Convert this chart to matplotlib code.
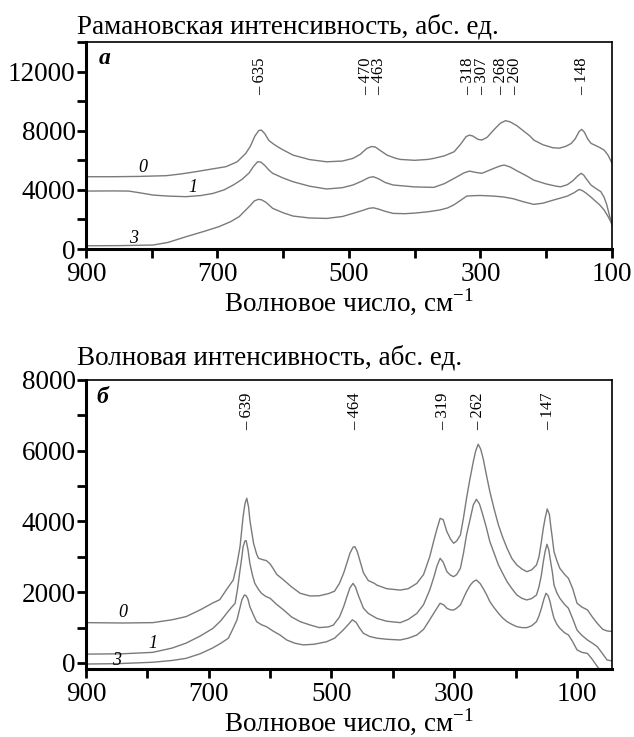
import matplotlib
matplotlib.use('Agg')
import matplotlib.pyplot as plt

plt.rcParams['font.family'] = ['Liberation Serif', 'DejaVu Serif']
plt.rcParams['mathtext.fontset'] = 'custom'
plt.rcParams['mathtext.rm'] = 'Liberation Serif'

# panel a: Raman spectra, curves 0, 1, 3
a0_wn = [900, 860, 820, 778, 755, 733, 710, 687, 670, 657, 650, 643, 637, 633, 628, 622, 616, 608, 600,
         585, 560, 534, 510, 494, 483, 473, 466, 460, 452, 442, 430, 422, 400, 380, 371, 355, 340, 330,
         322, 317, 312, 304, 298, 290, 280, 270, 262, 255, 245, 235, 225, 219, 205, 190, 180, 170, 162,
         156, 150, 146, 142, 137, 132, 125, 118, 112, 106, 100]
a0_int = [4890, 4890, 4910, 4960, 5080, 5230, 5400, 5570, 5900, 6470, 6950, 7650, 8020, 8040, 7800, 7350,
          7140, 6900, 6700, 6350, 6050, 5900, 5950, 6130, 6400, 6800, 6930, 6900, 6650, 6350, 6150, 6060,
          6000, 6060, 6130, 6300, 6580, 7100, 7600, 7700, 7650, 7420, 7370, 7550, 8050, 8500, 8680, 8600,
          8350, 8000, 7650, 7370, 7050, 6850, 6820, 6950, 7140, 7450, 7950, 8090, 7900, 7450, 7150, 7000,
          6850, 6690, 6350, 5800]

a1_wn = [900, 860, 835, 815, 798, 775, 748, 725, 707, 690, 676, 663, 652, 645, 639, 634, 628, 622, 616,
         600, 585, 560, 534, 510, 494, 480, 470, 463, 455, 445, 433, 400, 371, 355, 340, 325, 317, 307,
         298, 288, 280, 270, 264, 255, 245, 230, 219, 200, 185, 178, 168, 160, 152, 147, 143, 140, 132,
         124, 117, 112, 108, 104, 100]
a1_int = [3920, 3930, 3920, 3780, 3650, 3580, 3540, 3620, 3760, 4000, 4330, 4700, 5140, 5600, 5900, 5880,
          5650, 5350, 5120, 4800, 4550, 4250, 4060, 4150, 4330, 4600, 4830, 4890, 4750, 4500, 4330, 4200,
          4170, 4420, 4780, 5150, 5270, 5180, 5120, 5300, 5450, 5620, 5680, 5550, 5300, 4950, 4660, 4400,
          4250, 4210, 4350, 4600, 4950, 5120, 5000, 4800, 4330, 4080, 3880, 3500, 3000, 2300, 1600]

a3_wn = [900, 850, 798, 775, 748, 720, 698, 680, 667, 659, 652, 644, 638, 633, 626, 616, 600, 585, 560,
         534, 510, 494, 480, 470, 463, 455, 445, 433, 415, 400, 380, 362, 350, 340, 330, 321, 310, 300,
         280, 265, 250, 235, 219, 205, 190, 178, 168, 158, 150, 145, 140, 133, 127, 119, 112, 106, 100]
a3_int = [220, 230, 270, 450, 830, 1200, 1510, 1850, 2190, 2550, 2860, 3250, 3360, 3330, 3150, 2750, 2450,
          2230, 2100, 2070, 2200, 2410, 2600, 2750, 2790, 2700, 2550, 2410, 2390, 2430, 2520, 2640, 2780,
          3000, 3300, 3580, 3610, 3620, 3580, 3520, 3400, 3200, 3020, 3100, 3300, 3450, 3580, 3800, 4030,
          3950, 3800, 3550, 3310, 3000, 2640, 2200, 1700]

# panel b: curves 0, 1, 3
b0_wn = [900, 840, 791, 760, 737, 714, 694, 682, 670, 660, 654, 649, 644, 641, 638, 635, 633, 627, 622,
         619, 612, 606, 600, 597, 589, 578, 565, 551, 535, 520, 505, 495, 487, 480, 475, 470, 465, 462,
         458, 453, 448, 440, 430, 426, 410, 388, 375, 361, 350, 340, 333, 328, 323, 318, 312, 306, 301,
         296, 290, 285, 280, 275, 269, 265, 261, 257, 253, 248, 242, 235, 228, 221, 214, 206, 198, 190,
         182, 174, 166, 162, 158, 155, 152, 148.5, 145, 143, 140, 137.5, 133, 128, 120, 114, 107, 100,
         92, 83, 75, 67, 58, 51, 43]
b0_int = [1140, 1130, 1140, 1220, 1310, 1500, 1690, 1790, 2100, 2346, 2800, 3288, 4136, 4500, 4656, 4400,
          4043, 3384, 3080, 2960, 2920, 2893, 2800, 2723, 2500, 2346, 2150, 1970, 1894, 1900, 1960, 2030,
          2250, 2550, 2820, 3100, 3270, 3290, 3150, 2850, 2550, 2330, 2250, 2200, 2100, 2060, 2100, 2250,
          2500, 3000, 3480, 3800, 4090, 4050, 3712, 3500, 3384, 3450, 3619, 4100, 4656, 5150, 5691, 6000,
          6183, 6050, 5787, 5350, 4843, 4350, 3901, 3550, 3243, 2950, 2770, 2660, 2581, 2630, 2770, 3000,
          3430, 3800, 4090, 4354, 4200, 3901, 3500, 3148, 2900, 2676, 2500, 2393, 2100, 1690, 1580, 1500,
          1300, 1120, 950, 905, 890]

b1_wn = [900, 840, 791, 760, 737, 714, 693, 680, 671, 664, 657, 653, 649, 646, 644, 641, 639, 636, 633,
         629, 625, 619, 614, 607, 600, 589, 578, 565, 551, 535, 520, 505, 497, 487, 480, 475, 470, 465,
         461, 456, 448, 440, 426, 410, 388, 375, 361, 350, 340, 333, 328, 323, 318, 312, 306, 301, 296,
         290, 285, 280, 275, 269, 264, 259, 255, 248, 242, 235, 228, 221, 214, 206, 198, 190, 182, 174,
         166, 162, 158, 155, 152, 149, 146, 143, 140, 137.5, 133, 128, 120, 114, 107, 100, 92, 83, 75,
         67, 60, 51, 43]
b1_int = [250, 260, 300, 420, 560, 760, 980, 1200, 1400, 1550, 1687, 2100, 2629, 3000, 3288, 3450, 3458,
          3200, 2818, 2500, 2253, 2080, 1970, 1880, 1829, 1650, 1498, 1300, 1168, 1074, 1000, 1020, 1070,
          1300, 1600, 1870, 2120, 2250, 2150, 1900, 1550, 1400, 1260, 1180, 1140, 1230, 1400, 1650, 2060,
          2440, 2750, 2959, 2850, 2581, 2480, 2440, 2500, 2676, 3100, 3619, 4000, 4467, 4627, 4500, 4278,
          3850, 3430, 3100, 2770, 2530, 2299, 2100, 1922, 1830, 1781, 1820, 1922, 2150, 2488, 2850, 3148,
          3355, 3200, 2864, 2550, 2205, 1990, 1829, 1650, 1546, 1250, 930, 780, 650, 560, 460, 300, 85, 57]

b3_wn = [900, 850, 791, 760, 737, 714, 694, 680, 668, 661, 654, 650, 646, 642, 639, 636, 633, 627, 622,
         614, 606, 595, 584, 573, 560, 546, 528, 508, 495, 481, 472, 466, 460, 454, 448, 438, 426, 410,
         388, 375, 361, 350, 340, 330, 323, 317, 312, 306, 301, 296, 290, 285, 280, 274, 269, 264, 258,
         253, 247, 242, 235, 228, 221, 214, 206, 198, 190, 182, 174, 166, 162, 158, 154, 150.5, 147, 144,
         141, 137.5, 133, 128, 120, 114, 107, 100, 92, 83, 75, 67, 60]
b3_int = [-30, -20, 20, 70, 130, 260, 420, 560, 700, 950, 1216, 1500, 1781, 1922, 1900, 1800, 1592, 1350,
          1168, 1080, 1026, 900, 792, 650, 560, 510, 530, 600, 700, 930, 1100, 1220, 1150, 980, 840, 750,
          700, 670, 650, 700, 790, 950, 1220, 1500, 1687, 1640, 1546, 1500, 1498, 1550, 1640, 1830, 2017,
          2200, 2299, 2346, 2250, 2111, 1920, 1734, 1560, 1405, 1270, 1168, 1090, 1026, 1000, 998, 1050,
          1168, 1330, 1546, 1800, 1970, 1900, 1734, 1500, 1264, 1100, 981, 850, 792, 600, 370, 300, 270,
          100, -100, -250]

# peak marks: label text, x position of the label
a_peaks = ['– 635', '– 470\n– 463', '– 318\n– 307', '– 268\n– 260', '– 148']
a_peak_x = [635, 464, 308, 258, 146]
b_peaks = ['– 639', '– 464', '– 319', '– 262', '– 147']
b_peak_x = [638, 462, 318, 261, 147]

LINE = '#7a7a7a'
FS = 19.5

fig = plt.figure(figsize=(6.34, 7.37), dpi=100)
ax1 = fig.add_axes([0.1356, 0.6621, 0.8297, 0.2809])
ax2 = fig.add_axes([0.1356, 0.0923, 0.8297, 0.3921])


def style(ax):
    ax.spines['left'].set_linewidth(2.2)
    ax.spines['bottom'].set_linewidth(2.2)
    ax.spines['top'].set_linewidth(1.2)
    ax.spines['right'].set_linewidth(1.2)
    ax.tick_params(direction='out', length=6.5, width=2, labelsize=FS, pad=1)
    ax.tick_params(axis='x', pad=3)


for wn, it in [(a0_wn, a0_int), (a1_wn, a1_int), (a3_wn, a3_int)]:
    ax1.plot(wn, it, color=LINE, lw=1.0)
ax1.set_xlim(900, 100)
ax1.set_ylim(0, 14000)
ax1.set_xticks(range(900, 99, -100),
               ['900', '', '700', '', '500', '', '300', '', '100'])
ax1.set_yticks(range(0, 14001, 2000),
               ['0', '', '4000', '', '8000', '', '12000', ''])
style(ax1)
ax1.text(0.025, 0.97, 'а', transform=ax1.transAxes, fontsize=17,
         fontweight='bold', fontstyle='italic', va='top')
for lbl, x in zip(a_peaks, a_peak_x):
    ax1.text(x, 10400, lbl, rotation=90, ha='center', va='bottom', fontsize=12,
             linespacing=0.8, multialignment='left')
ax1.text(813, 5480, '0', fontsize=13, fontstyle='italic', ha='center', va='center')
ax1.text(737, 4190, '1', fontsize=13, fontstyle='italic', ha='center', va='center')
ax1.text(827, 740, '3', fontsize=13, fontstyle='italic', ha='center', va='center')
ax1.set_xlabel('Волновое число, см$^{-1}$', fontsize=FS, labelpad=0)
fig.text(0.121, 0.955, 'Рамановская интенсивность, абс. ед.', fontsize=FS, ha='left', va='baseline')

for wn, it in [(b0_wn, b0_int), (b1_wn, b1_int), (b3_wn, b3_int)]:
    ax2.plot(wn, it, color=LINE, lw=1.0)
ax2.set_xlim(900, 43)
ax2.set_ylim(-170, 8000)
ax2.set_xticks(range(900, 99, -100),
               ['900', '', '700', '', '500', '', '300', '', '100'])
ax2.set_yticks(range(0, 8001, 1000),
               ['0', '', '2000', '', '4000', '', '6000', '', '8000'])
style(ax2)
ax2.text(0.02, 0.975, 'б', transform=ax2.transAxes, fontsize=17,
         fontweight='bold', fontstyle='italic', va='top')
for lbl, x in zip(b_peaks, b_peak_x):
    ax2.text(x, 6600, lbl, rotation=90, ha='center', va='bottom', fontsize=12)
ax2.text(840, 1430, '0', fontsize=13, fontstyle='italic', ha='center', va='center')
ax2.text(791, 556, '1', fontsize=13, fontstyle='italic', ha='center', va='center')
ax2.text(851, 56, '3', fontsize=13, fontstyle='italic', ha='center', va='center')
ax2.set_xlabel('Волновое число, см$^{-1}$', fontsize=FS, labelpad=0)
fig.text(0.121, 0.505, 'Волновая интенсивность, абс. ед.', fontsize=FS, ha='left', va='baseline')

fig.savefig('out.png', dpi=100)
